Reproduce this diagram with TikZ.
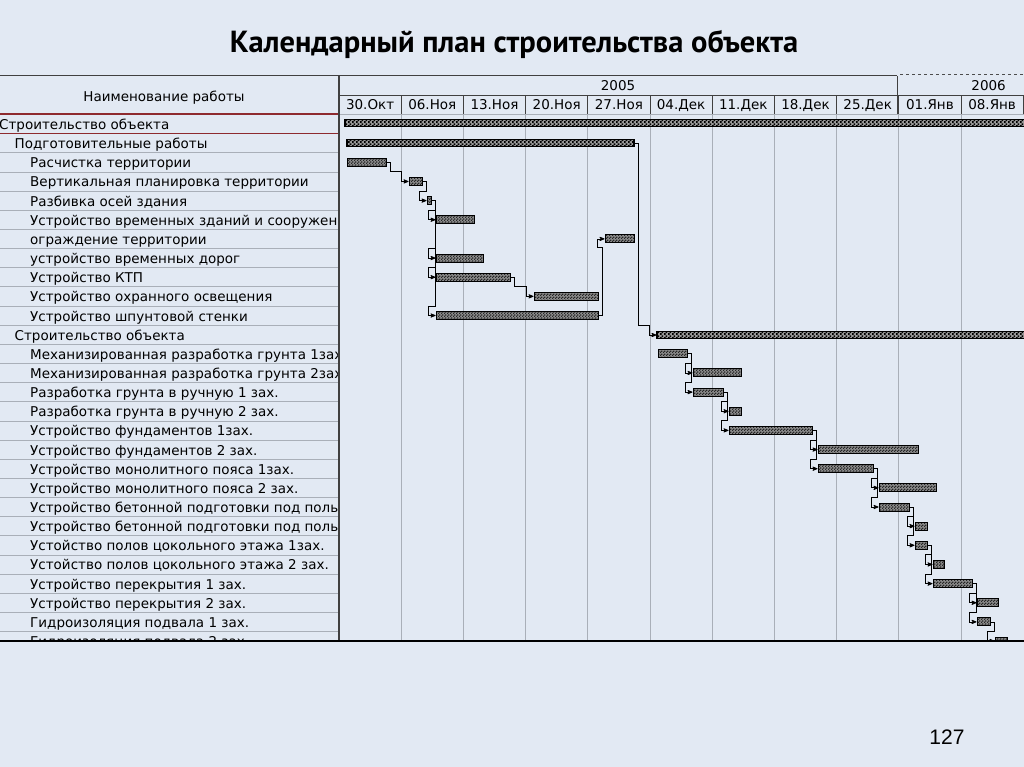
\documentclass[tikz,border=0pt]{standalone}
\usepackage{fontspec}
\usetikzlibrary{calc}
\usetikzlibrary{arrows}
\usetikzlibrary{patterns}
\newfontfamily\chartfont{DejaVu Sans}
\newfontfamily\titlefont{PT Sans}
\newfontfamily\numfont{Liberation Sans}
\definecolor{slidebg}{HTML}{E2E9F3}
\definecolor{gridgray}{HTML}{A9AFB8}
\definecolor{selred}{HTML}{8E2A2E}
\pgfdeclarepatternformonly{finecheck}{\pgfpointorigin}{\pgfqpoint{3pt}{3pt}}{\pgfqpoint{3pt}{3pt}}{
 \pgfpathrectangle{\pgfpointorigin}{\pgfqpoint{1.55pt}{1.55pt}}
 \pgfpathrectangle{\pgfqpoint{1.5pt}{1.5pt}}{\pgfqpoint{1.55pt}{1.55pt}}
 \pgfusepath{fill}}
\pgfdeclarepatternformonly{sumcheck}{\pgfpointorigin}{\pgfqpoint{4pt}{4pt}}{\pgfqpoint{4pt}{4pt}}{
 \pgfpathrectangle{\pgfpointorigin}{\pgfqpoint{2.05pt}{2.05pt}}
 \pgfpathrectangle{\pgfqpoint{2pt}{2pt}}{\pgfqpoint{2.05pt}{2.05pt}}
 \pgfusepath{fill}}
\tikzset{
 rowline/.style={gridgray, line width=.6},
 weekline/.style={gridgray, line width=.8},
 frameline/.style={black!75, line width=1},
 labeltext/.style={anchor=base west, inner sep=0, font=\chartfont\fontsize{13.5}{16}\selectfont},
 headtext/.style={anchor=base, inner sep=0, font=\chartfont\fontsize{13.5}{16}\selectfont},
 taskbar/.style={draw=black, line width=1, minimum height=8, inner sep=0, preaction={fill=black!45}, pattern=finecheck, pattern color=black!85},
 sumbar/.style={draw=black, line width=1.2, minimum height=7, inner sep=0, preaction={fill=black!40}, pattern=sumcheck, pattern color=black},
 linkline/.style={black, line width=.8, ->, >=stealth'},
}
\newcommand{\link}[3][-9.6]{\draw[linkline] (#2.east) -- ++(4,0) |- ($(#3.west)+(-7,#1)$) |- (#3.west);}
\begin{document}
\begin{tikzpicture}[x=1pt,y=-1pt]
\useasboundingbox (0,0) rectangle (1024,767);
\clip (0,0) rectangle (1024,767);
\fill[slidebg] (0,0) rectangle (1024,767);
\node[inner sep=0, font=\titlefont\bfseries\fontsize{30.5}{34}\selectfont] (title) at (514,44) {Календарный план строительства объекта};
% header
\draw[frameline] (0,76) -- (897,76);
\draw[black!70, dashed, line width=.8] (900,74) -- (1024,74);
\draw[frameline] (339,96) -- (1024,96);
\draw[frameline] (897.4,76) -- (897.4,114);
\foreach \k in {1,...,11}
 \draw[frameline] ({339+62.2*\k},96) -- ++(0,18);
\node[headtext] (colname) at (164,102) {Наименование работы};
\node[headtext] (y2005) at (618,91) {2005};
\node[headtext, anchor=base east] (y2006) at (1006,91) {2006};
\foreach \w [count=\k from 0] in {30.Окт, 06.Ноя, 13.Ноя, 20.Ноя, 27.Ноя, 04.Дек, 11.Дек, 18.Дек, 25.Дек, 01.Янв, 08.Янв}
 \node[headtext] (w\k) at ({339+62.2*\k+31.1},110) {\w};
% grid
\foreach \k in {1,...,10}
 \draw[weekline] ({339+62.2*\k},114) -- ++(0,527);
\foreach \i in {2,...,27}
 \draw[rowline] (0,{114.4+19.15*\i}) -- (339,{114.4+19.15*\i});
\draw[gridgray, line width=.8] (339,114) -- (1024,114);
\draw[selred, line width=1.2] (0,114) -- (339,114);
\draw[selred, line width=1.2] (0,133.5) -- (339,133.5);
% work names
\begin{scope}
\clip (0,115) rectangle (337.5,640);
\foreach \lvl/\txt [count=\i from 0] in {0/Строительство объекта, 1/Подготовительные работы,
 2/Расчистка территории, 2/Вертикальная планировка территории, 2/Разбивка осей здания,
 2/Устройство временных зданий и сооружений, 2/ограждение территории, 2/устройство временных дорог,
 2/Устройство КТП, 2/Устройство охранного освещения, 2/Устройство шпунтовой стенки,
 1/Строительство объекта, 2/Механизированная разработка грунта 1зах.,
 2/Механизированная разработка грунта 2зах., 2/Разработка грунта в ручную 1 зах.,
 2/Разработка грунта в ручную 2 зах., 2/Устройство фундаментов 1зах., 2/Устройство фундаментов 2 зах.,
 2/Устройство монолитного пояса 1зах., 2/Устройство монолитного пояса 2 зах.,
 2/Устройство бетонной подготовки под полы 1 зах., 2/Устройство бетонной подготовки под полы 2 зах.,
 2/Устойство полов цокольного этажа 1зах., 2/Устойство полов цокольного этажа 2 зах.,
 2/Устройство перекрытия 1 зах., 2/Устройство перекрытия 2 зах.,
 2/Гидроизоляция подвала 1 зах., 2/Гидроизоляция подвала 2 зах.}
 \node[labeltext] (lbl\i) at ({-1+15.5*\lvl},{129.5+19.15*\i}) {\txt};
\end{scope}
% bars and links
\begin{scope}
\clip (340,115) rectangle (1024,640.5);
\node[sumbar, minimum width=685] (s0) at ({(345+1030)/2},123) {};
\node[sumbar, minimum width=287] (s1) at ({(347+634)/2},143) {};
\node[sumbar, minimum width=373] (s11) at ({(657+1030)/2},335) {};
\foreach \n/\r/\s/\e in {2/2/347/386, 3/3/409/422, 4/4/427/431, 5/5/436/474, 6/6/605/634,
 7/7/436/483, 8/8/436/510, 9/9/534/598, 10/10/436/598, 12/12/658/687, 13/13/693/741,
 14/14/693/723, 15/15/729/741, 16/16/729/812, 17/17/818/918, 18/18/818/873, 19/19/879/936,
 20/20/879/909, 21/21/915/927, 22/22/915/927, 23/23/933/944, 24/24/933/972, 25/25/977/998,
 26/26/977/990, 27/27/995/1007}
 \node[taskbar, minimum width={\e-\s}] (b\n) at ({(\s+\e)/2},{124+19.15*\r}) {};
\link{b2}{b3}
\link{b3}{b4}
\foreach \t in {5,7,8,10}
 {\link{b4}{b\t}}
\link{b8}{b9}
\link[8]{b10}{b6}
\link{s1}{s11}
\foreach \a/\t in {12/13, 12/14, 14/15, 14/16, 16/17, 16/18, 18/19, 18/20, 20/21, 20/22,
 22/23, 22/24, 24/25, 24/26, 26/27}
 {\link{b\a}{b\t}}
\end{scope}
\draw[frameline, line width=1.4] (339,76) -- (339,641);
\draw[black, line width=1.6] (0,641) -- (1024,641);
\node[inner sep=0, font=\numfont\fontsize{21}{24}\selectfont] (pagenum) at (947,737) {127};
\end{tikzpicture}
\end{document}
